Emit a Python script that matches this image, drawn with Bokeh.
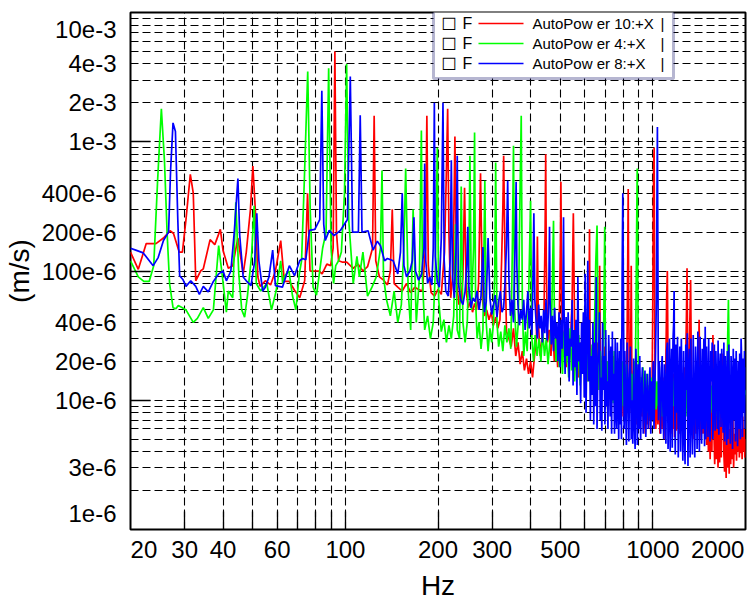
from bokeh.plotting import figure
from bokeh.models import Range1d, FixedTicker, CustomJSTickFormatter, Label, BoxAnnotation
from bokeh.embed import file_html
from bokeh.resources import INLINE

# ---------------- data (velocity in 1e-6 m/s, frequency in Hz) ----------------
red_f = [
    20, 21.2, 22.5, 24.2, 25.6, 26.9, 27.6, 28.8, 29.5, 30.3,
    31.3, 32.0, 32.6, 33.8, 34.5, 36.3, 37.6, 39.2, 40.0, 41.6,
    43.0, 44.7, 46.5, 47.6, 49.1, 50.0, 51.0, 51.9, 52.8, 54.9,
    57.1, 59.2, 61.6, 63.3, 65.7, 68.3, 71.0, 73.7, 75.3, 76.7,
    79.6, 82.0, 84.0, 87.0, 89.5, 91.2, 92.4, 93.5, 95.0, 98.0,
    101, 106, 110, 114, 118, 122.5, 124, 125.5, 129, 133,
    137, 140, 142, 144, 148, 153, 158, 163, 168, 173,
    178, 182, 184, 186, 190, 195, 200, 205, 210, 213,
    215, 217, 220, 224, 227, 230, 234, 238, 241, 244,
    247, 251, 255, 259, 263, 267, 271, 275, 279, 283,
    288, 293, 298, 303, 308, 313, 318, 322, 325, 327,
    330, 334, 340, 346, 352, 358, 364, 370, 376, 382,
    388, 394, 400, 406, 412, 418, 421, 424, 430, 436,
    442, 446, 448, 450, 454, 460, 466, 472, 478, 484,
    490, 496, 500, 502, 505, 510, 516, 522, 528, 534,
    540, 546, 551, 556, 562, 568, 574, 580, 586, 592,
    598, 604, 610, 616, 620, 622, 624, 628, 634, 640,
    646, 652, 658, 664, 668, 671, 674, 680, 686, 692,
    698, 704, 710, 716, 722, 728, 734, 740, 746, 752,
    758, 764, 770, 776, 782, 788, 794, 800, 806, 812,
    818, 824, 828, 831, 834, 840, 846, 850, 854, 860,
    866, 872, 878, 884, 890, 896, 902, 908, 914, 920,
    926, 932, 938, 944, 950, 956, 962, 968, 974, 980,
    986, 992, 998, 1003, 1006, 1009, 1012, 1016, 1022, 1030,
    1038, 1046, 1054, 1062, 1070, 1078, 1086, 1094, 1102, 1108,
    1114, 1120, 1128, 1136, 1144, 1152, 1160, 1168, 1176, 1184,
    1192, 1200, 1208, 1216, 1224, 1232, 1240, 1248, 1256, 1264,
    1272, 1280, 1286, 1291, 1296, 1302, 1310, 1318, 1326, 1333,
    1340, 1350, 1360, 1370, 1380, 1390, 1400, 1413, 1425, 1435,
    1445, 1455, 1465, 1475, 1485, 1495, 1505, 1515, 1525, 1535,
    1545, 1555, 1567, 1578, 1588, 1598, 1608, 1618, 1628, 1638,
    1648, 1658, 1668, 1678, 1690, 1700, 1710, 1720, 1730, 1740,
    1750, 1760, 1770, 1780, 1790, 1800, 1810, 1820, 1830, 1840,
    1850, 1860, 1870, 1880, 1890, 1900, 1910, 1920, 1930, 1940,
    1950, 1960, 1970, 1980, 1990, 2005,
]
red_v = [
    140, 103, 163, 163, 180, 205, 195, 140, 140, 250,
    560, 400, 84, 100, 104, 175, 160, 210, 144, 105,
    110, 180, 95, 140, 300, 650, 280, 90, 76, 84,
    78, 100, 172, 83, 83, 71, 62, 84, 400, 100,
    100, 100, 95, 113, 110, 150, 5000, 200, 120, 117,
    117, 105, 113, 100, 108, 150, 1590, 120, 90, 85,
    78, 100, 300, 80, 75, 70, 80, 68, 75, 72,
    70, 150, 1590, 110, 68, 64, 72, 66, 140, 600,
    1800, 200, 62, 100, 1100, 80, 55, 60, 90, 440,
    70, 52, 58, 48, 56, 50, 80, 570, 60, 45,
    50, 42, 48, 38, 44, 36, 42, 120, 300, 780,
    150, 34, 30, 26, 36, 22, 28, 19, 24, 17,
    21, 16, 20, 15, 22, 30, 185, 40, 22, 30,
    40, 200, 800, 120, 28, 35, 22, 38, 20, 32,
    18, 40, 150, 490, 60, 22, 35, 18, 40, 20,
    30, 60, 280, 40, 17, 32, 15, 28, 18, 40,
    16, 26, 14, 30, 80, 210, 30, 13, 25, 12,
    24, 15, 28, 12, 40, 110, 25, 11, 22, 13,
    26, 10, 20, 12, 24, 9, 18, 11, 22, 8.5,
    19, 9, 17, 8, 21, 10, 16, 7.5, 18, 9,
    15, 30, 120, 430, 60, 8, 20, 110, 14, 7,
    17, 8, 14, 6.5, 16, 7, 13, 6, 15, 7.5,
    12, 6, 14, 5.5, 11, 6.5, 13, 6, 12, 7,
    14, 8, 40, 300, 700, 900, 120, 12, 6, 13,
    6.5, 14, 5.5, 12, 6, 15, 5, 13, 20, 60,
    100, 18, 6, 14, 5.5, 12, 6, 16, 5.2, 13,
    5.8, 17, 6, 14, 5.5, 12, 6.5, 15, 5, 18,
    6, 25, 50, 105, 30, 6, 14, 40, 85, 20,
    5.5, 13, 5, 12, 5.5, 15, 6, 42, 8, 5,
    12, 5.5, 14, 5, 10, 4.5, 12, 4, 9, 3.5,
    10, 4, 32, 6, 3.2, 8, 3.5, 9, 3, 7,
    3.3, 10, 3.6, 8, 23, 4, 2.8, 7, 2.5, 6.5,
    3, 8, 2.7, 6, 3.2, 9, 3.5, 7, 3, 5.5,
    3.8, 8, 3.4, 6.5, 4, 9, 3.6, 7, 3.9, 6,
    3.5, 7.5, 4, 6, 3.6, 5,
]

green_f = [
    20, 21.2, 22.1, 23.0, 23.8, 24.5, 25.2, 25.8, 26.3, 26.8,
    27.5, 28.1, 28.6, 29.5, 30.3, 32.0, 33.0, 34.5, 35.8, 37.2,
    38.7, 39.6, 41.0, 41.6, 43.0, 44.0, 45.0, 46.0, 47.0, 48.0,
    49.5, 50.5, 51.3, 53.0, 55.5, 57.5, 59.5, 61.6, 62.5, 63.5,
    65.5, 67.3, 69.0, 70.8, 72.0, 73.5, 75.4, 76.8, 78.5, 80.5,
    82.0, 84.3, 86.5, 88.2, 89.8, 91.5, 93.0, 95.0, 97.0, 99.3,
    100.9, 102.5, 106, 109, 111, 114, 118, 122, 126, 130,
    131.5, 133, 136, 140, 144, 148, 152, 155, 157, 160,
    163, 166, 170, 174, 176.6, 178, 181, 185, 189, 193,
    196, 199, 201, 205, 209, 213, 217, 221, 225, 228,
    231, 235, 238, 241, 245, 249, 252, 254, 257, 261,
    263, 265, 268, 272, 276, 280, 284, 287, 291, 295,
    299, 303, 306, 308, 311, 315, 320, 325, 330, 335,
    340, 345, 349, 352, 355, 360, 365, 369, 373, 376,
    380, 385, 390, 395, 400, 404, 409, 414, 420, 426,
    432, 438, 444, 450, 456, 462, 468, 472, 475, 478,
    484, 490, 496, 502, 508, 514, 520, 526, 532, 538,
    544, 550, 556, 562, 568, 574, 580, 586, 592, 598,
    604, 610, 616, 622, 628, 634, 640, 646, 652, 658,
    662, 668, 674, 680, 686, 692, 697, 700, 706, 712,
    718, 724, 730, 736, 742, 748, 754, 760, 766, 772,
    778, 784, 790, 796, 802, 808, 814, 820, 826, 832,
    838, 844, 850, 856, 862, 868, 874, 880, 885, 889,
    893, 898, 904, 910, 916, 922, 928, 934, 940, 946,
    952, 958, 964, 970, 976, 982, 988, 994, 1000, 1008,
    1016, 1024, 1032, 1040, 1048, 1056, 1064, 1072, 1080, 1088,
    1096, 1104, 1112, 1120, 1128, 1136, 1144, 1152, 1160, 1168,
    1176, 1184, 1192, 1200, 1210, 1220, 1230, 1240, 1250, 1260,
    1270, 1280, 1290, 1300, 1310, 1320, 1330, 1340, 1350, 1360,
    1370, 1380, 1390, 1400, 1410, 1420, 1430, 1440, 1450, 1460,
    1470, 1480, 1490, 1500, 1510, 1520, 1530, 1540, 1550, 1560,
    1570, 1580, 1590, 1600, 1610, 1620, 1630, 1640, 1650, 1660,
    1670, 1680, 1690, 1700, 1710, 1720, 1730, 1740, 1750, 1760,
    1770, 1780, 1790, 1800, 1810, 1820, 1830, 1840, 1850, 1860,
    1870, 1880, 1890, 1900, 1910, 1920, 1930, 1940, 1950, 1960,
    1970, 1980, 1990, 2005,
]
green_v = [
    120, 90, 83, 83, 110, 500, 1800, 700, 200, 80,
    52, 51, 54, 52, 50, 40, 43, 52, 43, 50,
    157, 100, 48, 70, 62, 340, 95, 50, 44, 64,
    130, 320, 80, 70, 80, 50, 70, 120, 80, 92,
    100, 64, 50, 95, 120, 500, 3500, 300, 75, 65,
    90, 150, 200, 3700, 150, 80, 110, 120, 140, 400,
    4000, 250, 80, 130, 90, 140, 64, 75, 90, 150,
    600, 90, 60, 45, 70, 40, 55, 160, 620, 70,
    35, 300, 40, 90, 1220, 90, 35, 45, 30, 40,
    100, 900, 60, 34, 42, 28, 38, 30, 45, 230,
    35, 30, 450, 40, 28, 40, 120, 780, 50, 150,
    1180, 60, 30, 40, 25, 35, 500, 40, 24, 36,
    28, 40, 100, 690, 40, 26, 34, 24, 38, 28,
    36, 25, 150, 930, 50, 26, 40, 300, 1590, 60,
    22, 34, 24, 80, 350, 30, 20, 32, 22, 30,
    20, 34, 22, 30, 19, 28, 40, 110, 245, 45,
    20, 32, 18, 30, 16, 34, 19, 28, 15, 36,
    17, 30, 14, 26, 15, 32, 13, 28, 16, 24,
    13, 30, 14, 25, 12, 27, 14, 40, 120, 225,
    60, 12, 24, 11, 22, 40, 220, 30, 12, 20,
    10, 22, 11, 19, 9.5, 24, 10, 18, 9, 21,
    10, 17, 8.5, 20, 9, 16, 8, 19, 9.5, 15,
    8, 18, 9, 16, 7.5, 20, 8.5, 40, 200, 620,
    80, 10, 17, 8, 15, 9, 18, 7.5, 14, 8.5,
    16, 8, 13, 9, 17, 7.5, 15, 8, 14, 9,
    16, 8.5, 14, 9, 18, 8, 15, 7.5, 13, 8.5,
    16, 9, 14, 8, 17, 8.5, 13, 7.5, 15, 9,
    14, 8, 16, 8.5, 13, 7.5, 15, 8, 12, 7,
    14, 7.5, 16, 8, 13, 7, 15, 8.5, 12, 7.5,
    14, 8, 13, 7, 15, 8.5, 12, 7.5, 14, 8,
    13, 7.5, 15, 8, 12, 7, 14, 8.5, 13, 8,
    15, 8, 12, 7.5, 14, 8, 13, 7, 15, 8.5,
    12, 8, 14, 7.5, 13, 9, 15, 8, 30, 60,
    20, 8.5, 13, 8, 14, 9, 12, 8.5, 15, 9,
    13, 8, 16, 9.5, 12, 8.5, 14, 9, 13, 10,
    15, 9, 12, 11,
]

blue_f = [
    20, 20.8, 22.0, 23.7, 24.6, 25.6, 26.6, 27.0, 27.5, 28.0,
    28.5, 28.9, 29.6, 30.3, 31.4, 32.6, 33.5, 34.5, 35.8, 37.2,
    38.7, 40.0, 41.0, 42.4, 43.5, 44.7, 45.3, 46.5, 47.6, 49.3,
    50.7, 51.5, 52.3, 53.8, 54.9, 56.4, 58.0, 59.2, 62.4, 65.7,
    68.3, 71.0, 72.6, 74.3, 76.4, 79.5, 82.5, 83.8, 85.0, 86.0,
    88.6, 91.8, 96.3, 101.5, 103.7, 105.5, 110.2, 111.7, 113.2, 118.5,
    123, 127, 130, 134, 137, 143, 148, 151, 153, 155,
    158, 162, 165, 167, 169, 173, 177, 180, 181, 182.5,
    185, 188, 191, 193, 194.6, 196, 199, 202, 205, 207.6,
    209.5, 212, 216, 219, 221, 223, 226, 229, 231, 233,
    237, 241, 245, 248, 250, 252, 256, 260, 264, 268,
    272, 276, 280, 283, 287, 291, 295, 299, 303, 307,
    311, 315, 319, 323, 327, 331, 334, 337, 340, 344,
    348, 352, 355, 357, 359, 361, 364, 368, 372, 376,
    380, 384, 388, 392, 396, 400, 404, 407, 410, 413,
    417, 421, 425, 429, 433, 437, 441, 445, 449, 453,
    457, 459, 461, 463, 467, 471, 475, 479, 483, 487,
    491, 495, 499, 503, 507, 510, 512, 514, 518, 522,
    526, 530, 534, 538, 542, 546, 550, 554, 558, 562,
    566, 570, 574, 578, 582, 586, 590, 594, 598, 602,
    606, 610, 614, 618, 622, 626, 630, 634, 638, 642,
    646, 650, 654, 658, 662, 666, 670, 674, 678, 682,
    686, 690, 694, 698, 702, 706, 710, 714, 718, 722,
    726, 730, 734, 738, 742, 746, 750, 754, 758, 762,
    766, 770, 774, 778, 782, 786, 790, 794, 798, 802,
    806, 810, 815, 820, 825, 830, 835, 840, 845, 850,
    855, 860, 865, 870, 875, 880, 885, 890, 895, 900,
    906, 912, 918, 924, 930, 936, 942, 948, 954, 960,
    966, 972, 978, 984, 990, 996, 1002, 1008, 1014, 1020,
    1026, 1030, 1034, 1038, 1042, 1048, 1054, 1060, 1066, 1072,
    1078, 1084, 1090, 1096, 1102, 1108, 1114, 1120, 1126, 1132,
    1138, 1144, 1150, 1156, 1162, 1168, 1172, 1176, 1182, 1188,
    1195, 1202, 1209, 1216, 1223, 1230, 1237, 1244, 1251, 1258,
    1265, 1272, 1279, 1286, 1293, 1300, 1307, 1314, 1321, 1328,
    1336, 1344, 1352, 1360, 1368, 1376, 1384, 1392, 1400, 1408,
    1416, 1424, 1432, 1440, 1448, 1456, 1464, 1472, 1479, 1486,
    1494, 1502, 1510, 1518, 1526, 1534, 1542, 1550, 1558, 1566,
    1575, 1584, 1593, 1602, 1611, 1620, 1629, 1638, 1647, 1656,
    1665, 1674, 1683, 1692, 1701, 1710, 1719, 1728, 1737, 1746,
    1755, 1765, 1775, 1785, 1795, 1805, 1815, 1825, 1835, 1845,
    1855, 1865, 1875, 1885, 1895, 1905, 1915, 1925, 1935, 1945,
    1955, 1965, 1975, 1985, 1995, 2005,
]
blue_v = [
    150, 145, 138, 110, 127, 172, 200, 600, 1400, 1200,
    250, 92, 86, 76, 84, 76, 66, 76, 69, 83,
    95, 100, 84, 100, 200, 520, 190, 90, 84, 77,
    120, 280, 120, 70, 75, 90, 145, 77, 75, 110,
    92, 120, 125, 122, 206, 210, 250, 2480, 230, 172,
    206, 188, 206, 250, 3200, 200, 200, 1600, 200, 205,
    145, 170, 157, 120, 125, 120, 95, 140, 400, 110,
    90, 100, 120, 260, 100, 85, 95, 150, 680, 120,
    80, 90, 78, 150, 2000, 130, 82, 75, 180, 2000,
    120, 70, 64, 120, 720, 90, 62, 150, 780, 80,
    60, 55, 70, 110, 220, 75, 52, 62, 58, 70,
    50, 64, 153, 48, 58, 180, 62, 46, 55, 65,
    44, 58, 70, 48, 52, 90, 160, 500, 90, 45,
    60, 40, 110, 200, 490, 110, 55, 38, 50, 42,
    60, 35, 48, 70, 36, 52, 32, 80, 280, 60,
    40, 30, 55, 36, 45, 28, 50, 33, 60, 29,
    48, 90, 220, 60, 27, 45, 24, 52, 30, 40,
    20, 48, 18, 42, 25, 80, 260, 50, 16, 44,
    22, 48, 14, 30, 26, 60, 13, 35, 18, 42,
    11, 90, 20, 28, 9.5, 40, 16, 48, 10.5, 95,
    8, 30, 120, 14, 42, 7, 22, 11, 40, 6.5,
    28, 9, 90, 6, 18, 24, 48, 7, 15, 5.8,
    40, 12, 22, 6.5, 35, 9, 14, 6, 32, 18,
    7.5, 26, 5.5, 34, 10, 16, 5.5, 30, 8, 6,
    28, 12, 5, 24, 6.5, 30, 5, 90, 400, 60,
    6, 24, 9, 4.5, 28, 12, 4.8, 16, 26, 5,
    10, 4.6, 21, 7, 4.2, 25, 14, 4.5, 19, 6,
    22, 5, 12, 18, 5.5, 8, 17, 5.2, 11, 16,
    6, 9, 18, 5.5, 14, 7, 20, 6, 12, 24,
    60, 300, 1300, 120, 7, 20, 12, 5.5, 18, 22,
    8, 5, 19, 11, 4.6, 24, 28, 4.2, 9, 30,
    4, 15, 25, 4.3, 29, 40, 70, 12, 3.8, 27,
    8, 31, 3.6, 14, 26, 4, 30, 9, 3.4, 24,
    6, 3.2, 27, 12, 33, 3.1, 16, 25, 3.6, 30,
    7, 3.8, 32, 10, 3.6, 26, 15, 4.2, 34, 9,
    4, 31, 12, 4.6, 25, 6, 30, 4.4, 37, 5,
    26, 11, 5.2, 30, 8, 4.8, 24, 14, 28, 5,
    9, 27, 5.8, 24, 12, 6, 29, 5.4, 16, 23,
    6.2, 25, 10, 5.6, 28, 4.8, 22, 13, 4.5, 24,
    5, 27, 9, 4.6, 22, 15, 4.2, 25, 7, 21,
    4.8, 24, 11, 4.4, 20, 6, 23, 5, 30, 19,
    5.2, 21, 8, 24, 6, 18,
]

series_names = ["AutoPow er 10:+X", "AutoPow er 4:+X", "AutoPow er 8:+X"]
series_colors = ["#ff0000", "#00ff00", "#0000ff"]

x_tick_values = [20, 30, 40, 60, 100, 200, 300, 500, 1000, 2000]
x_tick_labels = ["20", "30", "40", "60", "100", "200", "300", "500", "1000", "2000"]
y_tick_values = [1e-6, 3e-6, 1e-5, 2e-5, 4e-5, 1e-4, 2e-4, 4e-4, 1e-3, 2e-3, 4e-3, 1e-2]
y_tick_labels = ["1e-6", "3e-6", "10e-6", "20e-6", "40e-6", "100e-6", "200e-6",
                 "400e-6", "1e-3", "2e-3", "4e-3", "10e-3"]

for a, b in [(red_f, red_v), (green_f, green_v), (blue_f, blue_v)]:
    assert len(a) == len(b), (len(a), len(b))

# ---------------- figure ----------------
FONT = "Liberation Sans"
X0, X1, Y0, Y1 = 20, 2000, 1e-6, 1e-2
p = figure(width=747, height=604, x_axis_type="log", y_axis_type="log",
           x_range=Range1d(X0, X1), y_range=Range1d(Y0, Y1),
           output_backend="svg", toolbar_location=None,
           min_border_left=127, min_border_right=2, min_border_top=12, min_border_bottom=75)
p.background_fill_color = "white"
p.border_fill_color = "white"
p.outline_line_color = "black"
p.outline_line_width = 2

frame_w = 747 - 127 - 2
frame_h = 604 - 12 - 75
px_per_dec_x = frame_w / 2.0
px_per_dec_y = frame_h / 4.0

# edge labels sit inside the frame (as in the original instrument plot)
x_anchor = list(x_tick_values)
x_anchor[0] = x_tick_values[0] * 10 ** (13.5 / px_per_dec_x)
x_anchor[-1] = x_tick_values[-1] * 10 ** (-28 / px_per_dec_x)
y_anchor = list(y_tick_values)
y_anchor[0] = y_tick_values[0] * 10 ** (16.5 / px_per_dec_y)
y_anchor[-1] = y_tick_values[-1] * 10 ** (-16.5 / px_per_dec_y)

fmt_code = """
let best = 0, bd = Infinity;
for (let i = 0; i < vals.length; i++) {
  const d = Math.abs(Math.log(tick) - Math.log(vals[i]));
  if (d < bd) { bd = d; best = i; }
}
return labs[best];
"""

x_grid_vals = [30, 40, 50, 60, 70, 80, 90, 100, 200, 300, 400, 500, 600, 700, 800, 900, 1000]
y_grid_vals = []
for dec in [1e-6, 1e-5, 1e-4, 1e-3]:
    for m in range(1, 10):
        v = m * dec
        if v > Y0 * 1.01:
            y_grid_vals.append(v)

p.xaxis.ticker = FixedTicker(ticks=x_anchor, minor_ticks=x_grid_vals)
p.xaxis.formatter = CustomJSTickFormatter(args=dict(vals=x_anchor, labs=x_tick_labels), code=fmt_code)
p.yaxis.ticker = FixedTicker(ticks=y_anchor, minor_ticks=[1e-5, 1e-4, 1e-3])
p.yaxis.formatter = CustomJSTickFormatter(args=dict(vals=y_anchor, labs=y_tick_labels), code=fmt_code)

for ax in (p.xaxis[0], p.yaxis[0]):
    ax.major_tick_line_color = None
    ax.axis_line_color = None
    ax.minor_tick_line_color = "black"
    ax.minor_tick_line_width = 1.3
    ax.minor_tick_out = 0
    ax.major_label_text_font = FONT
    ax.major_label_text_font_size = "24px"
    ax.major_label_text_color = "black"
    ax.axis_label_text_font = FONT
    ax.axis_label_text_font_size = "28px"
    ax.axis_label_text_font_style = "normal"
    ax.axis_label_text_color = "black"
p.xaxis.minor_tick_in = 18
p.yaxis.minor_tick_in = 20
p.xaxis.major_label_standoff = 5
p.yaxis.major_label_standoff = 8
p.xaxis.axis_label = "Hz"
p.yaxis.axis_label = "(m/s)"
p.xaxis.axis_label_standoff = 9
p.yaxis.axis_label_standoff = 4

p.xgrid.ticker = FixedTicker(ticks=x_grid_vals)
p.ygrid.ticker = FixedTicker(ticks=y_grid_vals)
for g in (p.xgrid[0], p.ygrid[0]):
    g.grid_line_color = "black"
    g.grid_line_width = 1.1
    g.grid_line_dash = "8 4"

# ---------------- spectra ----------------
for f, v, c in [(red_f, red_v, series_colors[0]),
                (green_f, green_v, series_colors[1]),
                (blue_f, blue_v, series_colors[2])]:
    p.line([fi for fi in f], [vi * 1e-6 for vi in v], line_color=c, line_width=1.7)

# ---------------- legend box (screen units, frame origin bottom-left) ----------------
FL, FB = 127, 529  # frame left / bottom in page pixels
def sx(px):
    return px - FL
def sy(py):
    return FB - py

p.add_layout(BoxAnnotation(left=sx(430), right=sx(670), top=sy(4), bottom=sy(78),
                           left_units="screen", right_units="screen",
                           top_units="screen", bottom_units="screen",
                           fill_color="white", fill_alpha=1.0,
                           line_color="#0c0c66", line_width=3))
rows = [23, 43, 63]
for i, ry in enumerate(rows):
    p.add_layout(Label(x=sx(438), y=sy(ry), x_units="screen", y_units="screen",
                       text="\u2610", text_font="DejaVu Sans", text_font_size="17px",
                       text_baseline="middle", text_align="left", text_color="black"))
    p.add_layout(Label(x=sx(459), y=sy(ry), x_units="screen", y_units="screen",
                       text="F", text_font=FONT, text_font_size="16px",
                       text_baseline="middle", text_align="left", text_color="black"))
    p.add_layout(BoxAnnotation(left=sx(475), right=sx(520), top=sy(ry) + 0.75, bottom=sy(ry) - 0.75,
                               left_units="screen", right_units="screen",
                               top_units="screen", bottom_units="screen",
                               fill_color=series_colors[i], fill_alpha=1.0, line_color=None))
    p.add_layout(Label(x=sx(529), y=sy(ry), x_units="screen", y_units="screen",
                       text=series_names[i], text_font=FONT, text_font_size="15px",
                       text_baseline="middle", text_align="left", text_color="black"))
    p.add_layout(Label(x=sx(657), y=sy(ry), x_units="screen", y_units="screen",
                       text="|", text_font=FONT, text_font_size="15px",
                       text_baseline="middle", text_align="left", text_color="black"))

open("out.html", "w").write(file_html(p, INLINE))
